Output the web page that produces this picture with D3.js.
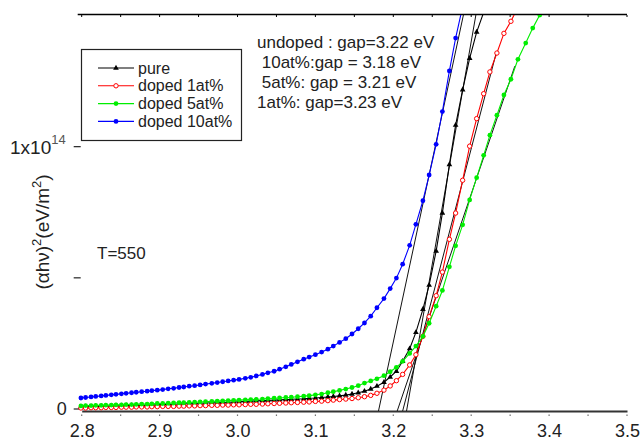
<!DOCTYPE html>
<html>
<head>
<meta charset="utf-8">
<script src="https://cdn.jsdelivr.net/npm/d3@7"></script>
<style>
  body { margin:0; background:#fff; }
  svg text { font-family: "Liberation Sans", Arial, sans-serif; }
</style>
</head>
<body>
<svg id="chart" width="642" height="441"></svg>
<script>
// photon energy (eV), one point per nm of wavelength, 443 nm down to 365 nm
var energy = [2.799,2.805,2.812,2.818,2.825,2.831,2.838,2.844,2.851,2.857,
  2.864,2.870,2.877,2.884,2.890,2.897,2.904,2.911,2.918,2.925,
  2.931,2.938,2.945,2.952,2.959,2.967,2.974,2.981,2.988,2.995,
  3.002,3.010,3.017,3.024,3.032,3.039,3.047,3.054,3.062,3.069,
  3.077,3.085,3.092,3.100,3.108,3.116,3.123,3.131,3.139,3.147,
  3.155,3.163,3.171,3.179,3.188,3.196,3.204,3.212,3.221,3.229,
  3.238,3.246,3.255,3.263,3.272,3.280,3.289,3.298,3.307,3.316,
  3.324,3.333,3.342,3.351,3.360,3.370,3.379,3.388,3.397];

// (alpha h nu)^2 in units of 1e14
var pure = [0.006,0.007,0.007,0.008,0.008,0.009,0.009,0.010,0.010,0.011,
  0.011,0.012,0.012,0.013,0.013,0.014,0.015,0.015,0.016,0.017,
  0.018,0.018,0.019,0.020,0.021,0.022,0.022,0.023,0.024,0.025,
  0.026,0.027,0.028,0.029,0.030,0.031,0.032,0.033,0.034,0.035,
  0.036,0.037,0.039,0.040,0.042,0.044,0.046,0.048,0.051,0.055,
  0.060,0.066,0.074,0.085,0.100,0.120,0.142,0.180,0.228,0.290,
  0.378,0.470,0.600,0.745,0.930,1.080,1.215,1.335,1.435,1.510];
var doped1 = [0.002,0.002,0.003,0.003,0.003,0.004,0.004,0.004,0.005,0.005,
  0.005,0.006,0.006,0.006,0.007,0.007,0.008,0.008,0.008,0.009,
  0.009,0.010,0.010,0.011,0.011,0.012,0.012,0.013,0.013,0.014,
  0.014,0.015,0.016,0.016,0.017,0.018,0.019,0.020,0.021,0.022,
  0.023,0.024,0.025,0.027,0.028,0.030,0.032,0.034,0.036,0.038,
  0.041,0.045,0.050,0.058,0.070,0.086,0.106,0.130,0.166,0.205,
  0.275,0.350,0.430,0.520,0.645,0.745,0.870,1.000,1.105,1.200,
  1.283,1.355,1.430,1.476,1.530];
var doped5 = [0.010,0.011,0.011,0.012,0.012,0.013,0.013,0.014,0.014,0.015,
  0.015,0.016,0.017,0.017,0.018,0.019,0.019,0.020,0.021,0.022,
  0.022,0.023,0.024,0.025,0.026,0.027,0.028,0.029,0.030,0.031,
  0.032,0.033,0.034,0.035,0.036,0.038,0.039,0.040,0.042,0.043,
  0.045,0.047,0.049,0.052,0.055,0.060,0.064,0.069,0.074,0.080,
  0.087,0.097,0.105,0.113,0.125,0.140,0.157,0.180,0.210,0.238,
  0.275,0.325,0.390,0.450,0.540,0.620,0.700,0.795,0.880,0.965,
  1.042,1.118,1.195,1.255,1.331,1.393,1.450,1.500,1.550];
var doped10 = [0.040,0.042,0.044,0.046,0.048,0.050,0.052,0.054,0.056,0.058,
  0.060,0.062,0.064,0.066,0.068,0.070,0.072,0.075,0.077,0.080,
  0.082,0.085,0.087,0.090,0.093,0.096,0.099,0.102,0.105,0.108,
  0.111,0.115,0.119,0.124,0.130,0.136,0.142,0.150,0.159,0.168,
  0.178,0.188,0.196,0.205,0.215,0.226,0.238,0.252,0.266,0.284,
  0.304,0.326,0.352,0.384,0.419,0.457,0.497,0.550,0.622,0.702,
  0.792,0.890,1.007,1.132,1.287,1.412,1.532];

var seriesNames = ['pure','doped 1at%','doped 5at%','doped 10at%'];
var seriesColors = ['#000000','#ff0000','#00ee00','#0000ff'];

// linear fits (Tauc extrapolation): start energy, end energy, end value
var fitE0 = [3.217,3.212,3.205,3.181];
var fitE1 = [3.306,3.332,3.356,3.290];
var fitV1 = [1.500,1.354,1.305,1.500];

var gapNotes = ['undoped : gap=3.22 eV',' 10at%:gap = 3.18 eV',' 5at%: gap = 3.21 eV','1at%: gap=3.23 eV'];
var xTicks = [2.8,2.9,3.0,3.1,3.2,3.3,3.4,3.5];
var xMinor = [2.8,2.85,2.9,2.95,3.0,3.05,3.1,3.15,3.2,3.25,3.3,3.35,3.4,3.45,3.5];
var yTicks = [0,0.5,1];

var svg = d3.select('#chart');
var x = d3.scaleLinear().domain([2.8,3.5]).range([81.7,627]);
var y = d3.scaleLinear().domain([0,1.5]).range([408.5,15]);

svg.append('defs').append('clipPath').attr('id','plotclip')
  .append('rect').attr('x',x(2.8)-4).attr('y',y(1.5)).attr('width',x(3.5)-x(2.8)+8).attr('height',y(0)-y(1.5)+3);

// top frame line with tiny ticks
svg.append('line').attr('x1',x(2.8)-4).attr('x2',x(3.5)).attr('y1',y(1.5)-0.5).attr('y2',y(1.5)-0.5)
  .attr('stroke','#000').attr('stroke-width',1.5);
svg.selectAll('.topminor').data(xMinor).enter().append('line')
  .attr('x1',function(d){return x(d);}).attr('x2',function(d){return x(d);})
  .attr('y1',y(1.5)).attr('y2',y(1.5)+2).attr('stroke','#000').attr('stroke-width',1);

// bottom axis
var xAxis = svg.append('g').attr('transform','translate(0,' + (y(0)+2.5) + ')')
  .call(d3.axisBottom(x).tickValues(xTicks).tickFormat(d3.format('.1f')).tickSize(0).tickPadding(13));
xAxis.select('.domain').attr('stroke','#333').attr('stroke-width',2);
xAxis.selectAll('text').attr('font-size',18).attr('fill','#222')
  .attr('font-family','"Liberation Sans", Arial, sans-serif');
svg.selectAll('.xminor').data(xMinor).enter().append('rect')
  .attr('x',function(d){return x(d)-0.6;}).attr('y',y(0)+6).attr('width',1.2).attr('height',1.4).attr('fill','#666');

// left ticks
var yAxis = svg.append('g').attr('transform','translate(' + (x(2.8)-1) + ',0)')
  .call(d3.axisLeft(y).tickValues(yTicks).tickSize(7).tickFormat(''));
yAxis.select('.domain').remove();
yAxis.selectAll('line').attr('stroke','#222').attr('stroke-width',1.2);

svg.append('text').attr('x',x(2.8)-15).attr('y',y(0)+6).attr('text-anchor','end')
  .attr('font-size',18).attr('fill','#222').text('0');
var ylab = svg.append('text').attr('x',10).attr('y',y(1)+8).attr('font-size',19).attr('fill','#222');
ylab.append('tspan').text('1x10');
ylab.append('tspan').attr('dy',-10).attr('font-size',13).attr('fill','#555').text('14');

// axis title
var ytitle = svg.append('text').attr('transform','translate(49,232) rotate(-90)')
  .attr('text-anchor','middle').attr('font-size',19).attr('fill','#222');
ytitle.append('tspan').text('(\u03b1h\u03bd)');
ytitle.append('tspan').attr('dy',-8).attr('font-size',13).text('2');
ytitle.append('tspan').attr('dy',8).text('(eV/m');
ytitle.append('tspan').attr('dy',-8).attr('font-size',13).text('2');
ytitle.append('tspan').attr('dy',8).text(')');

var plot = svg.append('g').attr('clip-path','url(#plotclip)');

// fit lines
fitE0.forEach(function(e0,i){
  plot.append('line').attr('x1',x(e0)).attr('y1',y(0)+2.5).attr('x2',x(fitE1[i])).attr('y2',y(fitV1[i]))
    .attr('stroke','#111').attr('stroke-width',1);
});

var allSeries = [pure,doped1,doped5,doped10];
var line = d3.line().x(function(d,i){return x(energy[i]);}).y(function(d){return y(d);});

allSeries.forEach(function(vals,k){
  var g = plot.append('g');
  g.append('path').datum(vals).attr('d',line).attr('fill','none')
    .attr('stroke',seriesColors[k]).attr('stroke-width',1.1);
  var pts = g.selectAll('.pt').data(vals).enter();
  if (k == 0) {
    pts.append('path').attr('d',d3.symbol().type(d3.symbolTriangle).size(14))
      .attr('transform',function(d,i){return 'translate(' + x(energy[i]) + ',' + y(d) + ')';})
      .attr('fill','#000');
  } else if (k == 1) {
    pts.append('circle').attr('cx',function(d,i){return x(energy[i]);}).attr('cy',function(d){return y(d);})
      .attr('r',2.2).attr('fill','#fff').attr('stroke','#ff0000').attr('stroke-width',1);
  } else {
    pts.append('circle').attr('cx',function(d,i){return x(energy[i]);}).attr('cy',function(d){return y(d);})
      .attr('r',2.4).attr('fill',seriesColors[k]);
  }
});

// legend
var leg = svg.append('g');
leg.append('rect').attr('x',81.5).attr('y',49.5).attr('width',160).attr('height',91)
  .attr('fill','#fff').attr('stroke','#222').attr('stroke-width',1.2);
seriesNames.forEach(function(name,k){
  var ly = 68 + k*17.8;
  leg.append('line').attr('x1',98).attr('x2',134).attr('y1',ly).attr('y2',ly)
    .attr('stroke',seriesColors[k]).attr('stroke-width',1.1);
  if (k == 0) {
    leg.append('path').attr('d',d3.symbol().type(d3.symbolTriangle).size(14))
      .attr('transform','translate(116,' + ly + ')').attr('fill','#000');
  } else if (k == 1) {
    leg.append('circle').attr('cx',116).attr('cy',ly).attr('r',2.2).attr('fill','#fff').attr('stroke','#ff0000');
  } else {
    leg.append('circle').attr('cx',116).attr('cy',ly).attr('r',2.4).attr('fill',seriesColors[k]);
  }
  leg.append('text').attr('x',138).attr('y',ly+5.5).attr('font-size',16).attr('fill','#222').text(name);
});

// gap notes
gapNotes.forEach(function(t,i){
  svg.append('text').attr('x',257).attr('y',47.5 + i*20).attr('font-size',17)
    .attr('fill','#222').attr('xml:space','preserve').style('white-space','pre').text(t);
});

svg.append('text').attr('x',97).attr('y',259).attr('font-size',17).attr('fill','#222').text('T=550');
</script>
</body>
</html>
